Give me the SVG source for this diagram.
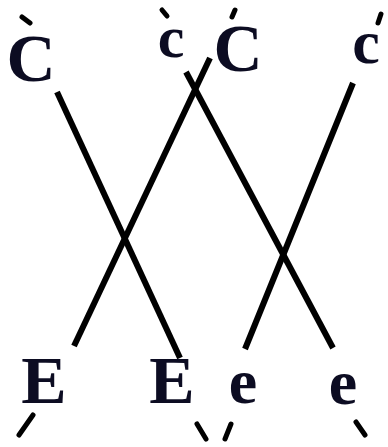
<svg xmlns="http://www.w3.org/2000/svg" width="388" height="447" viewBox="0 0 388 447">
<style>
.t{font-family:"Liberation Serif","Times New Roman",serif;font-weight:bold;fill:#0c0c22;text-anchor:middle}
.ln{stroke:#000;stroke-width:6;stroke-linecap:butt;fill:none}
.tk{stroke:#000;stroke-width:5;stroke-linecap:round;fill:none}
</style>
<rect width="388" height="447" fill="#fff"/>
<g id="connectors">
<line class="ln" x1="57" y1="92" x2="180" y2="358"/>
<line class="ln" x1="210" y1="58" x2="74" y2="346"/>
<line class="ln" x1="186" y1="72" x2="333" y2="348"/>
<line class="ln" x1="353" y1="83" x2="245" y2="349"/>
</g>
<g id="n-C1"><line class="tk" x1="22" y1="17" x2="30" y2="23"/><text class="t" x="31" y="81" font-size="68">C</text></g>
<g id="n-c1"><line class="tk" x1="162" y1="10" x2="167" y2="16"/><text class="t" x="171" y="57" font-size="60">c</text></g>
<g id="n-C2"><line class="tk" x1="235" y1="10" x2="232" y2="17"/><text class="t" x="238" y="71" font-size="68">C</text></g>
<g id="n-c2"><line class="tk" x1="381" y1="14" x2="378" y2="23"/><text class="t" x="366" y="63" font-size="62">c</text></g>
<g id="n-E1"><line class="tk" x1="33" y1="415" x2="19" y2="435"/><text class="t" x="44" y="403" font-size="68">E</text></g>
<g id="n-E2"><line class="tk" x1="197" y1="424" x2="206" y2="439"/><text class="t" x="172" y="403" font-size="68">E</text></g>
<g id="n-e1"><line class="tk" x1="231" y1="424" x2="225" y2="439"/><text class="t" x="243" y="403" font-size="64">e</text></g>
<g id="n-e2"><line class="tk" x1="356" y1="422" x2="365" y2="435"/><text class="t" x="343" y="404" font-size="64">e</text></g>
</svg>
